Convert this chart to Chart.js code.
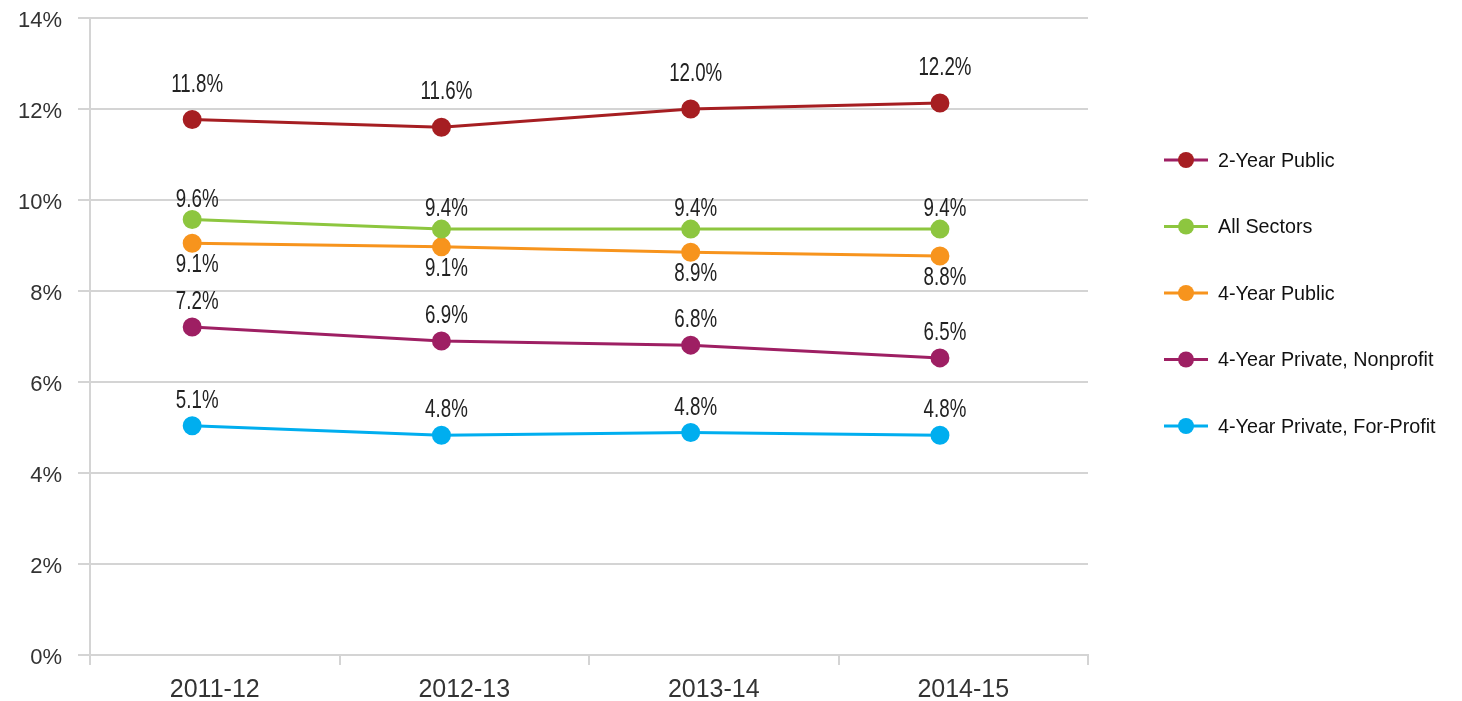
<!DOCTYPE html>
<html>
<head>
<meta charset="utf-8">
<script src="https://cdn.jsdelivr.net/npm/chart.js@4/dist/chart.umd.min.js"></script>
<style>
  html, body { margin: 0; padding: 0; background: #ffffff; }
  #wrap { width: 1462px; height: 701px; }
</style>
</head>
<body>
<div id="wrap"><canvas id="lineChart" width="1462" height="701"></canvas></div>
<script>
const years = ["2011-12", "2012-13", "2013-14", "2014-15"];

const twoYearPublic = [11.77, 11.6, 12.0, 12.13];
const allSectors = [9.57, 9.36, 9.36, 9.36];
const fourYearPublic = [9.05, 8.97, 8.85, 8.77];
const privateNonprofit = [7.21, 6.9, 6.81, 6.53];
const privateForProfit = [5.04, 4.83, 4.89, 4.83];

// labels as printed on the chart
const twoYearPublicLabels = ["11.8%", "11.6%", "12.0%", "12.2%"];
const allSectorsLabels = ["9.6%", "9.4%", "9.4%", "9.4%"];
const fourYearPublicLabels = ["9.1%", "9.1%", "8.9%", "8.8%"];
const privateNonprofitLabels = ["7.2%", "6.9%", "6.8%", "6.5%"];
const privateForProfitLabels = ["5.1%", "4.8%", "4.8%", "4.8%"];

const yTicks = [0, 2, 4, 6, 8, 10, 12, 14];

function makeSeries(label, values, labels, color, labelOffset, legendLineColor) {
  return {
    label: label,
    // points sit a little left of the category centre in the original, so they
    // go on their own hidden index axis
    data: values.map((v, i) => ({ x: i, y: v })),
    xAxisID: "xp",
    valueLabels: labels,
    labelOffset: labelOffset,
    legendLineColor: legendLineColor || color,
    borderColor: color,
    backgroundColor: color,
    pointBackgroundColor: color,
    pointBorderColor: color,
    borderWidth: 3,
    pointRadius: 8,
    pointHoverRadius: 8,
    tension: 0,
    fill: false,
  };
}

// value labels over / under the points (narrowed to look condensed)
const valueLabelPlugin = {
  id: "valueLabels",
  afterDatasetsDraw(chart) {
    const ctx = chart.ctx;
    chart.data.datasets.forEach((ds, i) => {
      const meta = chart.getDatasetMeta(i);
      meta.data.forEach((pt, j) => {
        ctx.save();
        ctx.translate(pt.x + 5, pt.y + ds.labelOffset);
        ctx.scale(0.72, 1);
        ctx.font = "26px 'Liberation Sans', Arimo, sans-serif";
        ctx.fillStyle = "#222222";
        ctx.textAlign = "center";
        ctx.textBaseline = "middle";
        ctx.fillText(ds.valueLabels[j], 0, 0);
        ctx.restore();
      });
    });
  },
};

// legend on the right, drawn by hand so it sits where the original does
const sideLegendPlugin = {
  id: "sideLegend",
  afterDraw(chart) {
    const ctx = chart.ctx;
    const x0 = 1164;
    let y = 160;
    chart.data.datasets.forEach((ds) => {
      ctx.save();
      ctx.strokeStyle = ds.legendLineColor;
      ctx.lineWidth = 3;
      ctx.beginPath();
      ctx.moveTo(x0, y);
      ctx.lineTo(x0 + 44, y);
      ctx.stroke();
      ctx.fillStyle = ds.borderColor;
      ctx.beginPath();
      ctx.arc(x0 + 22, y, 8, 0, Math.PI * 2);
      ctx.fill();
      ctx.translate(x0 + 54, y + 1);
      ctx.scale(0.94, 1);
      ctx.font = "21px 'Liberation Sans', Arimo, sans-serif";
      ctx.textBaseline = "middle";
      ctx.textAlign = "left";
      ctx.fillStyle = "#111111";
      ctx.fillText(ds.label, 0, 0);
      ctx.restore();
      y += 66.5;
    });
  },
};

const ctx = document.getElementById("lineChart").getContext("2d");
const lineChart = new Chart(ctx, {
  type: "line",
  data: {
    labels: years,
    datasets: [
      makeSeries("2-Year Public", twoYearPublic, twoYearPublicLabels, "#a61e22", -35, "#9e1f63"),
      makeSeries("All Sectors", allSectors, allSectorsLabels, "#8dc63f", -20),
      makeSeries("4-Year Public", fourYearPublic, fourYearPublicLabels, "#f7941d", 22),
      makeSeries("4-Year Private, Nonprofit", privateNonprofit, privateNonprofitLabels, "#9e1f63", -25),
      makeSeries("4-Year Private, For-Profit", privateForProfit, privateForProfitLabels, "#00aeef", -25),
    ],
  },
  options: {
    responsive: false,
    animation: false,
    layout: { padding: { top: 18, right: 374, bottom: 0, left: 0 } },
    plugins: {
      legend: { display: false },
      tooltip: { enabled: false },
    },
    scales: {
      x: {
        offset: true,
        grid: {
          offset: true,
          drawOnChartArea: false,
          drawTicks: true,
          tickLength: 10,
          color: "#d4d4d4",
          lineWidth: 2,
        },
        border: { display: true, color: "#d4d4d4", width: 2 },
        ticks: {
          color: "#333333",
          padding: 10,
          font: { family: "'Liberation Sans', Arimo, sans-serif", size: 25 },
        },
        afterFit(scale) {
          scale.height = 46;
          scale.paddingLeft = 0;
          scale.paddingRight = 0;
        },
      },
      xp: {
        type: "linear",
        display: false,
        min: -0.41,
        max: 3.594,
      },
      y: {
        min: 0,
        max: 14,
        afterBuildTicks(scale) {
          scale.ticks = yTicks.map((v) => ({ value: v }));
        },
        grid: {
          color: "#d4d4d4",
          lineWidth: 2,
          drawTicks: true,
          tickLength: 12,
        },
        border: { display: true, color: "#d4d4d4", width: 2 },
        ticks: {
          color: "#333333",
          padding: 16,
          labelOffset: 3,
          font: { family: "'Liberation Sans', Arimo, sans-serif", size: 22 },
          callback: (v) => v + "%",
        },
        afterFit(scale) {
          scale.width = 90;
          scale.paddingTop = 0;
          scale.paddingBottom = 0;
        },
      },
    },
  },
  plugins: [valueLabelPlugin, sideLegendPlugin],
});
</script>
</body>
</html>
